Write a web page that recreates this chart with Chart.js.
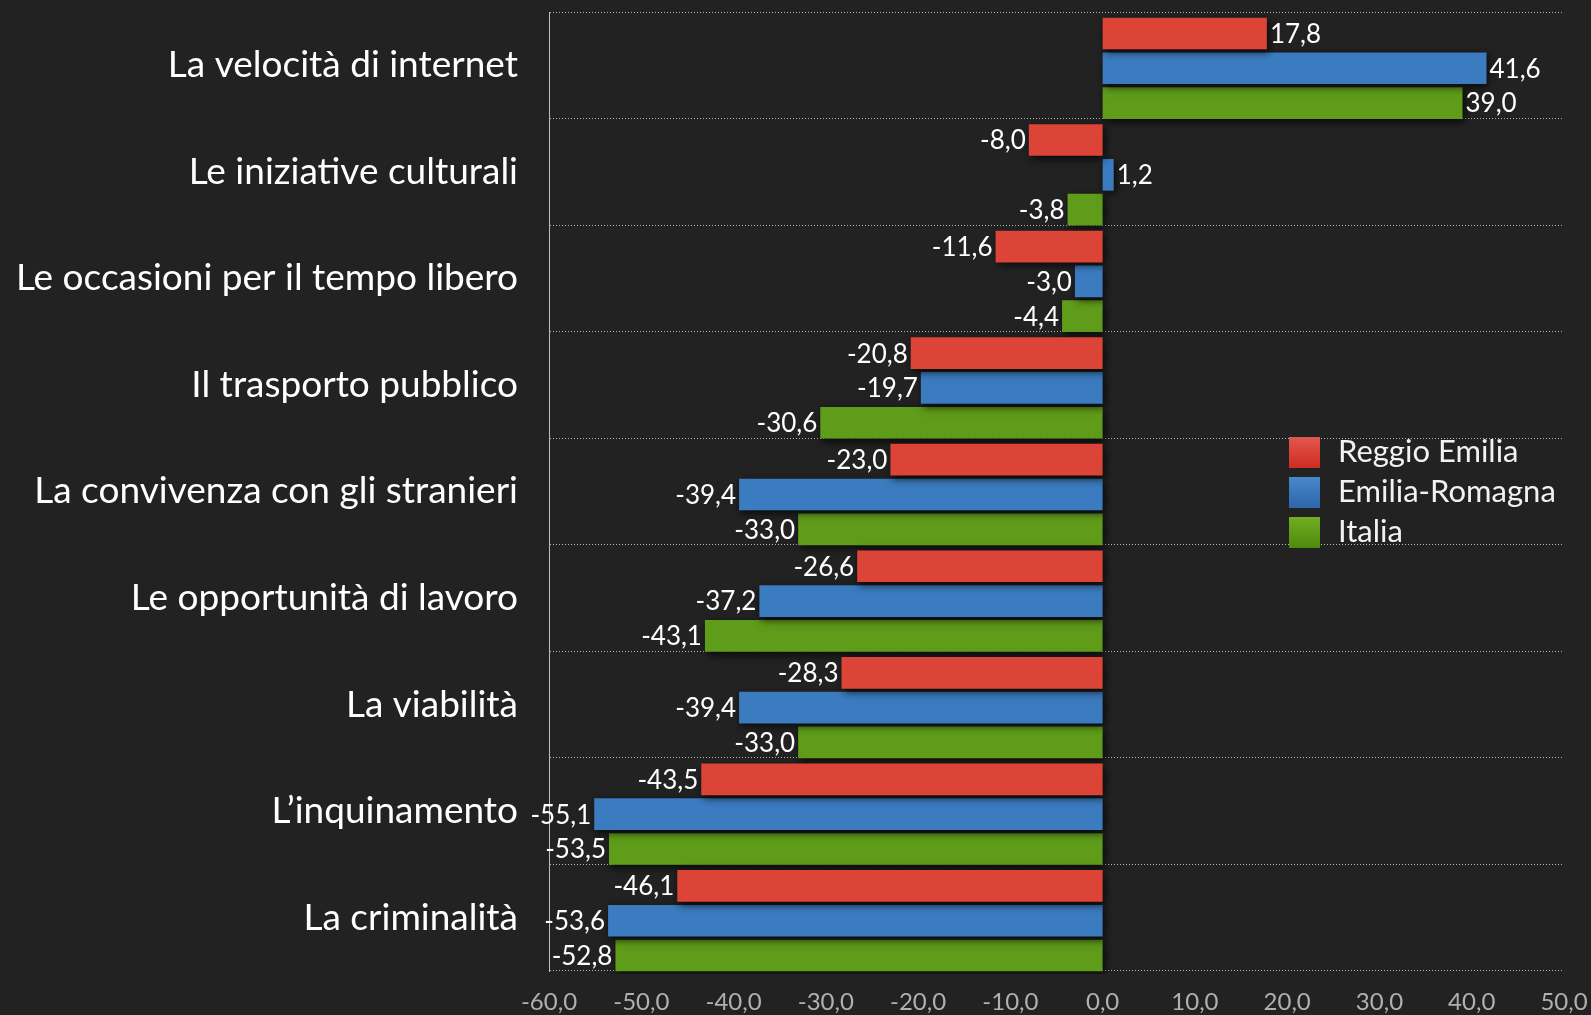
<!DOCTYPE html>
<html>
<head>
<meta charset="utf-8">
<script src="https://cdn.jsdelivr.net/npm/chart.js@4"></script>
<style>
  html, body { margin: 0; padding: 0; background: #222222; }
  #wrap { width: 1591px; height: 1015px; position: relative; }
</style>
</head>
<body>
<div id="wrap"><canvas id="chart" width="1591" height="1015"></canvas></div>
<script>
const categories = [
    'La velocità di internet',
    'Le iniziative culturali',
    'Le occasioni per il tempo libero',
    'Il trasporto pubblico',
    'La convivenza con gli stranieri',
    'Le opportunità di lavoro',
    'La viabilità',
    'L’inquinamento',
    'La criminalità'
];
const seriesNames = ['Reggio Emilia', 'Emilia-Romagna', 'Italia'];
const reggioEmilia = [17.8, -8.0, -11.6, -20.8, -23.0, -26.6, -28.3, -43.5, -46.1];
const emiliaRomagna = [41.6, 1.2, -3.0, -19.7, -39.4, -37.2, -39.4, -55.1, -53.6];
const italia = [39.0, -3.8, -4.4, -30.6, -33.0, -43.1, -33.0, -53.5, -52.8];
const xTicks = [-60, -50, -40, -30, -20, -10, 0, 10, 20, 30, 40, 50];

const colors = ['#dd4438', '#3b7bbf', '#5f9c1a'];
const FONT = 'Lato, "Noto Sans", sans-serif';
const BAR_SHIFT = 3; // bars sit a little low inside each band

function fmt(v) {
    return v.toFixed(1).replace('.', ',');
}

// drop shadow under the bars
const shadowPlugin = {
    id: 'barShadow',
    beforeDatasetsDraw(chart) {
        const ctx = chart.ctx;
        ctx.save();
        ctx.translate(0, BAR_SHIFT);
        ctx.shadowColor = 'rgba(0,0,0,0.75)';
        ctx.shadowBlur = 8;
        ctx.shadowOffsetX = 2;
        ctx.shadowOffsetY = 3;
    },
    afterDatasetsDraw(chart) {
        chart.ctx.restore();
    }
};

// value labels at the end of each bar
const valueLabels = {
    id: 'valueLabels',
    afterDatasetsDraw(chart) {
        const ctx = chart.ctx;
        ctx.save();
        ctx.font = '26px ' + FONT;
        ctx.fillStyle = '#ffffff';
        ctx.textBaseline = 'middle';
        chart.data.datasets.forEach((ds, i) => {
            const meta = chart.getDatasetMeta(i);
            meta.data.forEach((bar, j) => {
                const v = ds.data[j];
                const y = bar.y + BAR_SHIFT + 1;
                if (v >= 0) {
                    ctx.textAlign = 'left';
                    ctx.fillText(fmt(v), bar.x + 3, y);
                } else {
                    ctx.textAlign = 'right';
                    ctx.fillText(fmt(v), bar.x - 3, y);
                }
            });
        });
        ctx.restore();
    }
};

// legend drawn inside the plot area
const innerLegend = {
    id: 'innerLegend',
    afterDraw(chart) {
        const ctx = chart.ctx;
        ctx.save();
        ctx.font = '31px ' + FONT;
        ctx.textBaseline = 'middle';
        ctx.textAlign = 'left';
        chart.data.datasets.forEach((ds, i) => {
            const top = 437 + i * 40;
            const g = ctx.createLinearGradient(0, top, 0, top + 31);
            g.addColorStop(0, ds.legendTop);
            g.addColorStop(1, ds.legendBottom);
            ctx.fillStyle = g;
            ctx.fillRect(1289, top, 31, 31);
            ctx.fillStyle = '#f2f2f2';
            ctx.fillText(ds.label, 1338, top + 15);
        });
        ctx.restore();
    }
};

const ctx = document.getElementById('chart').getContext('2d');
new Chart(ctx, {
    type: 'bar',
    data: {
        labels: categories,
        datasets: [
            { label: seriesNames[0], data: reggioEmilia, backgroundColor: colors[0], legendTop: '#e2584d', legendBottom: '#cf2c22' },
            { label: seriesNames[1], data: emiliaRomagna, backgroundColor: colors[1], legendTop: '#4788cb', legendBottom: '#2e66aa' },
            { label: seriesNames[2], data: italia, backgroundColor: colors[2], legendTop: '#72ad22', legendBottom: '#4d8a0c' }
        ]
    },
    options: {
        indexAxis: 'y',
        responsive: false,
        animation: false,
        categoryPercentage: 0.98,
        barPercentage: 0.91,
        layout: { padding: { top: 12, right: 27, left: 0, bottom: 0 } },
        plugins: {
            legend: { display: false },
            tooltip: { enabled: false }
        },
        scales: {
            x: {
                min: -60,
                max: 50,
                afterBuildTicks(scale) {
                    scale.ticks = xTicks.map(v => ({ value: v }));
                },
                afterFit(scale) {
                    scale.height = 44;
                    scale.paddingLeft = 0;
                    scale.paddingRight = 0;
                },
                grid: { display: false, drawTicks: false },
                border: { display: false },
                ticks: {
                    color: '#b0b0b0',
                    padding: 17,
                    font: { family: FONT, size: 24 },
                    callback: v => fmt(v),
                    maxRotation: 0,
                    autoSkip: false
                }
            },
            y: {
                afterFit(scale) {
                    scale.width = 549;
                    scale.paddingTop = 0;
                    scale.paddingBottom = 0;
                },
                grid: {
                    color: '#b8b8b8',
                    lineWidth: 1,
                    offset: true,
                    drawTicks: false
                },
                border: { display: true, color: '#bdbdbd', width: 1, dash: [1, 2] },
                ticks: {
                    color: '#ffffff',
                    padding: 31,
                    font: { family: FONT, size: 37 }
                }
            }
        }
    },
    plugins: [shadowPlugin, valueLabels, innerLegend]
});
</script>
</body>
</html>
